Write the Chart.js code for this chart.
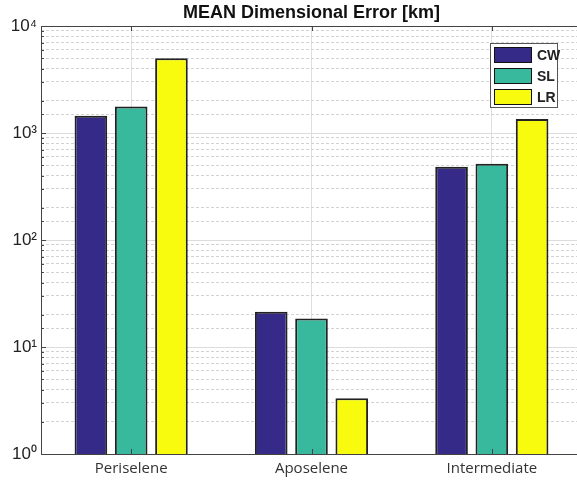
<!DOCTYPE html>
<html>
<head>
<meta charset="utf-8">
<script src="https://cdn.jsdelivr.net/npm/chart.js@4"></script>
<style>
  body { margin: 0; overflow: hidden; background: #fff; }
  #wrap { position: relative; width: 600px; height: 484px; }
  #legend {
    position: absolute; left: 490px; top: 43px; width: 68px; height: 65px;
    background: #fff; border: 1px solid #555; box-sizing: border-box;
    font-family: "Liberation Sans", Arial, sans-serif; font-size: 14px; font-weight: bold; color: #222;
  }
  .item { position: absolute; left: 3px; height: 16px; }
  .patch { position: absolute; left: 0; top: 0; width: 36px; height: 14px; border: 1.5px solid #111; }
  .lbl { position: absolute; left: 43px; top: 0; line-height: 17px; }
</style>
</head>
<body>
<div id="wrap">
  <canvas id="errChart" width="600" height="484"></canvas>
  <div id="legend"></div>
</div>
<script>
const categories = ["Periselene", "Aposelene", "Intermediate"];
const seriesNames = ["CW", "SL", "LR"];
const cwValues = [1450, 21.4, 483];
const slValues = [1770, 18.5, 516];
const lrValues = [5000, 3.32, 1350];
const seriesColors = ["#352a87", "#38b99e", "#f9fb0e"];
const yTickLabels = {1: "10⁰", 10: "10¹", 100: "10²", 1000: "10³", 10000: "10⁴"};

const isDecade = v => Math.abs(Math.log10(v) - Math.round(Math.log10(v))) < 1e-9;

const datasets = [cwValues, slValues, lrValues].map((vals, i) => ({
  label: seriesNames[i],
  data: vals,
  backgroundColor: seriesColors[i],
  borderColor: "#222",
  borderWidth: 2,
  categoryPercentage: 0.67,
  barPercentage: 0.81,
  yAxisID: "y"
}));

// little inward tick marks like the matlab box
const tickMarks = {
  id: "tickMarks",
  afterDraw(chart) {
    const ctx = chart.ctx;
    const y = chart.scales.y, x = chart.scales.x;
    const area = chart.chartArea;
    ctx.save();
    ctx.strokeStyle = "#444";
    ctx.lineWidth = 1;
    ctx.beginPath();
    y.ticks.forEach(t => {
      const py = Math.round(y.getPixelForValue(t.value)) + 0.5;
      const len = isDecade(t.value) ? 5 : 3;
      ctx.moveTo(area.left, py);
      ctx.lineTo(area.left + len, py);
    });
    categories.forEach((c, i) => {
      const px = Math.round(x.getPixelForValue(i)) + 0.5;
      ctx.moveTo(px, area.bottom);
      ctx.lineTo(px, area.bottom - 5);
      ctx.moveTo(px, area.top);
      ctx.lineTo(px, area.top + 5);
    });
    ctx.stroke();
    ctx.restore();
  }
};

new Chart(document.getElementById("errChart").getContext("2d"), {
  type: "bar",
  data: { labels: categories, datasets: datasets },
  options: {
    responsive: false,
    animation: false,
    devicePixelRatio: 1,
    layout: { padding: { left: 0, right: 18, top: 0, bottom: 0 } },
    plugins: {
      legend: { display: false },
      tooltip: { enabled: false }
    },
    scales: {
      x: {
        position: "bottom",
        grid: { offset: false, color: "#dedede", drawTicks: false },
        border: { color: "#444", width: 1 },
        ticks: {
          color: "#333",
          padding: 6,
          font: { family: "'Open Sans', 'Noto Sans', sans-serif", size: 15 }
        },
        afterFit(s) { s.height = 30; }
      },
      x2: {
        type: "category",
        labels: categories,
        position: "top",
        grid: { display: false, drawTicks: false },
        border: { color: "#444", width: 1 },
        ticks: { display: false },
        title: {
          display: true,
          text: "MEAN Dimensional Error [km]",
          color: "#111",
          font: { family: "'Liberation Sans', Arial, sans-serif", size: 18, weight: "bold" },
          padding: { top: 2, bottom: 2 }
        },
        afterFit(s) { s.height = 26; }
      },
      y: {
        type: "logarithmic",
        position: "left",
        min: 1,
        max: 10000,
        grid: {
          drawTicks: false,
          color: c => (c.tick && isDecade(c.tick.value)) ? "#dcdcdc" : "rgba(0,0,0,0)"
        },
        border: { color: "#444", width: 1 },
        ticks: {
          autoSkip: false,
          padding: 4,
          color: "#222",
          font: { family: "'Liberation Sans', Arial, sans-serif", size: 17 },
          callback: v => yTickLabels[v] || ""
        },
        afterFit(s) { s.width = 41; }
      },
      y2: {
        type: "logarithmic",
        position: "right",
        min: 1,
        max: 10000,
        grid: {
          drawTicks: false,
          color: c => (c.tick && !isDecade(c.tick.value)) ? "#d2d2d2" : "rgba(0,0,0,0)"
        },
        border: { display: false, dash: [3, 2] },
        ticks: { display: false, autoSkip: false },
        afterFit(s) { s.width = 0; }
      }
    }
  },
  plugins: [tickMarks]
});

// legend built from the same series arrays
const legend = document.getElementById("legend");
seriesNames.forEach((name, i) => {
  const item = document.createElement("div");
  item.className = "item";
  item.style.top = (3 + i * 21) + "px";
  item.innerHTML = `<div class="patch" style="background:${seriesColors[i]}"></div><div class="lbl">${name}</div>`;
  legend.appendChild(item);
});
</script>
</body>
</html>
